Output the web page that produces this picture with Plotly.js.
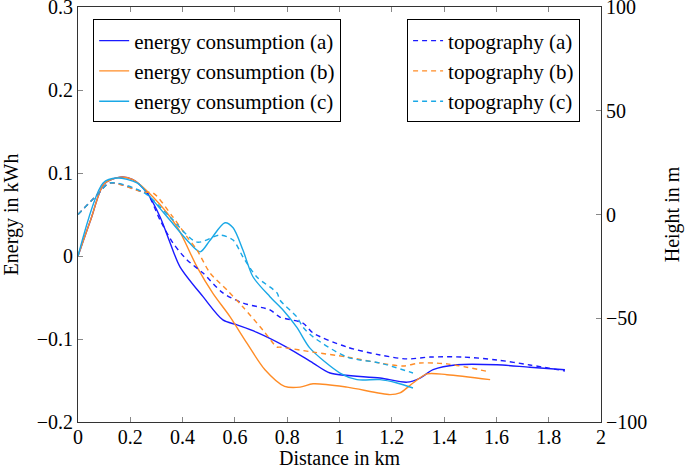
<!DOCTYPE html>
<html><head><meta charset="utf-8">
<script src="https://cdn.plot.ly/plotly-3.0.1.min.js"></script>
<style>body{margin:0;padding:0;background:#fff}#chart{width:685px;height:469px}</style>
</head><body><div id="chart"></div>
<script>
// Energy consumption (kWh), left axis
const eA_x = [0, 0.05, 0.10, 0.161, 0.21, 0.264, 0.314, 0.352, 0.39, 0.478, 0.554, 0.608, 0.684, 0.799, 0.899, 0.964, 1.155, 1.258, 1.308, 1.358, 1.449, 1.602, 1.728, 1.862];
const eA_y = [0, 0.045, 0.087, 0.095, 0.092, 0.076, 0.047, 0.016, -0.013, -0.049, -0.077, -0.083, -0.092, -0.110, -0.129, -0.141, -0.147, -0.152, -0.147, -0.137, -0.131, -0.131, -0.134, -0.137];
const eB_x = [0, 0.05, 0.10, 0.161, 0.21, 0.287, 0.379, 0.455, 0.516, 0.581, 0.646, 0.715, 0.79, 0.849, 0.899, 1.029, 1.193, 1.231, 1.281, 1.335, 1.411, 1.576];
const eB_y = [0, 0.045, 0.087, 0.095, 0.092, 0.071, 0.035, -0.013, -0.045, -0.073, -0.105, -0.137, -0.157, -0.158, -0.154, -0.158, -0.167, -0.165, -0.153, -0.142, -0.143, -0.149];
const eC_x = [0, 0.096, 0.149, 0.226, 0.287, 0.352, 0.417, 0.467, 0.505, 0.562, 0.593, 0.631, 0.669, 0.734, 0.784, 0.837, 0.887, 1.002, 1.067, 1.155, 1.22, 1.281];
const eC_y = [0, 0.088, 0.094, 0.088, 0.067, 0.043, 0.019, 0.005, 0.019, 0.040, 0.034, 0.007, -0.025, -0.049, -0.065, -0.086, -0.111, -0.141, -0.149, -0.149, -0.153, -0.159];
// Topography (m), right axis
const tA_x = [0, 0.073, 0.122, 0.249, 0.264, 0.314, 0.363, 0.417, 0.478, 0.554, 0.631, 0.734, 0.772, 0.86, 0.899, 1.029, 1.155, 1.258, 1.346, 1.472, 1.602, 1.728, 1.862];
const tA_y = [0, 9.4, 15.2, 10.8, 10.4, -2.7, -13.7, -21.9, -28.2, -37.8, -42.7, -46.0, -49.4, -52.3, -57.1, -63.9, -67.7, -69.6, -68.7, -68.7, -70.1, -72.5, -75.4];
const tB_x = [0, 0.073, 0.122, 0.249, 0.287, 0.363, 0.417, 0.455, 0.505, 0.57, 0.631, 0.707, 0.761, 0.772, 0.899, 1.029, 1.155, 1.243, 1.308, 1.411, 1.576];
const tB_y = [0, 9.4, 15.2, 10.8, 10.4, -1.2, -10.8, -17.1, -28.2, -36.4, -44.6, -55.7, -63.9, -63.9, -66.3, -68.7, -71.6, -73.0, -71.6, -72.0, -75.9];
const tC_x = [0, 0.073, 0.122, 0.249, 0.352, 0.455, 0.543, 0.593, 0.631, 0.684, 0.761, 0.772, 0.837, 0.86, 0.899, 1.029, 1.155, 1.281];
const tC_y = [0, 9.4, 15.2, 10.8, -1.2, -13.3, -9.9, -12.3, -20.5, -30.1, -37.8, -41.2, -49.4, -54.2, -59.0, -68.7, -71.6, -76.4];

const names = ['energy consumption (a)', 'energy consumption (b)', 'energy consumption (c)', 'topography (a)', 'topography (b)', 'topography (c)'];
const xTicks = [0, 0.2, 0.4, 0.6, 0.8, 1, 1.2, 1.4, 1.6, 1.8, 2];
const xTickText = ['0', '0.2', '0.4', '0.6', '0.8', '1', '1.2', '1.4', '1.6', '1.8', '2'];
const yTicks = [-0.2, -0.1, 0, 0.1, 0.2, 0.3];
const yTickText = ['\u22120.2', '\u22120.1', '0', '0.1', '0.2', '0.3'];
const y2Ticks = [-100, -50, 0, 50, 100];
const y2TickText = ['\u2212100', '\u221250', '0', '50', '100'];
const cBlue = '#1a1aff', cOrange = '#ff8c26', cCyan = '#1aa8e6';

function tr(x, y, name, color, dash, yaxis, legend) {
  return {x: x, y: y, name: name, type: 'scatter', mode: 'lines', yaxis: yaxis, legend: legend,
    line: {color: color, width: 1.4, dash: dash, shape: 'spline', smoothing: 0.8}};
}
const data = [
  tr(tA_x, tA_y, names[3], cBlue, '5px,4px', 'y2', 'legend2'),
  tr(tB_x, tB_y, names[4], cOrange, '5px,4px', 'y2', 'legend2'),
  tr(tC_x, tC_y, names[5], cCyan, '5px,4px', 'y2', 'legend2'),
  tr(eA_x, eA_y, names[0], cBlue, 'solid', 'y', 'legend'),
  tr(eB_x, eB_y, names[1], cOrange, 'solid', 'y', 'legend'),
  tr(eC_x, eC_y, names[2], cCyan, 'solid', 'y', 'legend')
];
const F = 'Liberation Serif, DejaVu Serif, serif';
const FS = 20;
const axisCommon = {showgrid: false, zeroline: false, showline: true, linecolor: '#333', linewidth: 1,
  ticks: 'inside', ticklen: 5, tickcolor: '#888', tickwidth: 1, tickmode: 'array', ticklabeloverflow: 'allow',
  tickfont: {family: F, size: FS, color: '#000'}};
const legCommon = {font: {family: F, size: 21, color: '#000'}, bordercolor: '#000', borderwidth: 1, bgcolor: 'rgba(255,255,255,1)',
  yanchor: 'top', y: 0.97, tracegroupgap: 0, itemwidth: 30, traceorder: 'normal'};
const layout = {
  width: 685, height: 469,
  margin: {l: 78, r: 84, t: 7, b: 47},
  paper_bgcolor: '#fff', plot_bgcolor: '#fff',
  font: {family: F, size: FS, color: '#000'},
  xaxis: Object.assign({}, axisCommon, {range: [0, 2], tickvals: xTicks, ticktext: xTickText, mirror: 'ticks',
    ticklabelstandoff: -3,
    title: {text: 'Distance in km', font: {family: F, size: FS}, standoff: 6}}),
  yaxis: Object.assign({}, axisCommon, {range: [-0.2, 0.30001], tickvals: yTicks, ticktext: yTickText,
    title: {text: 'Energy in kWh', font: {family: F, size: FS}, standoff: 16}}),
  yaxis2: Object.assign({}, axisCommon, {range: [-100, 100.004], tickvals: y2Ticks, ticktext: y2TickText, overlaying: 'y', side: 'right',
    title: {text: 'Height in m', font: {family: F, size: FS}, standoff: 18}}),
  legend: Object.assign({}, legCommon, {x: 0.029, xanchor: 'left'}),
  legend2: Object.assign({}, legCommon, {x: 0.96, xanchor: 'right'}),
  showlegend: true
};
Plotly.newPlot('chart', data, layout, {displayModeBar: false, staticPlot: true});
</script></body></html>
